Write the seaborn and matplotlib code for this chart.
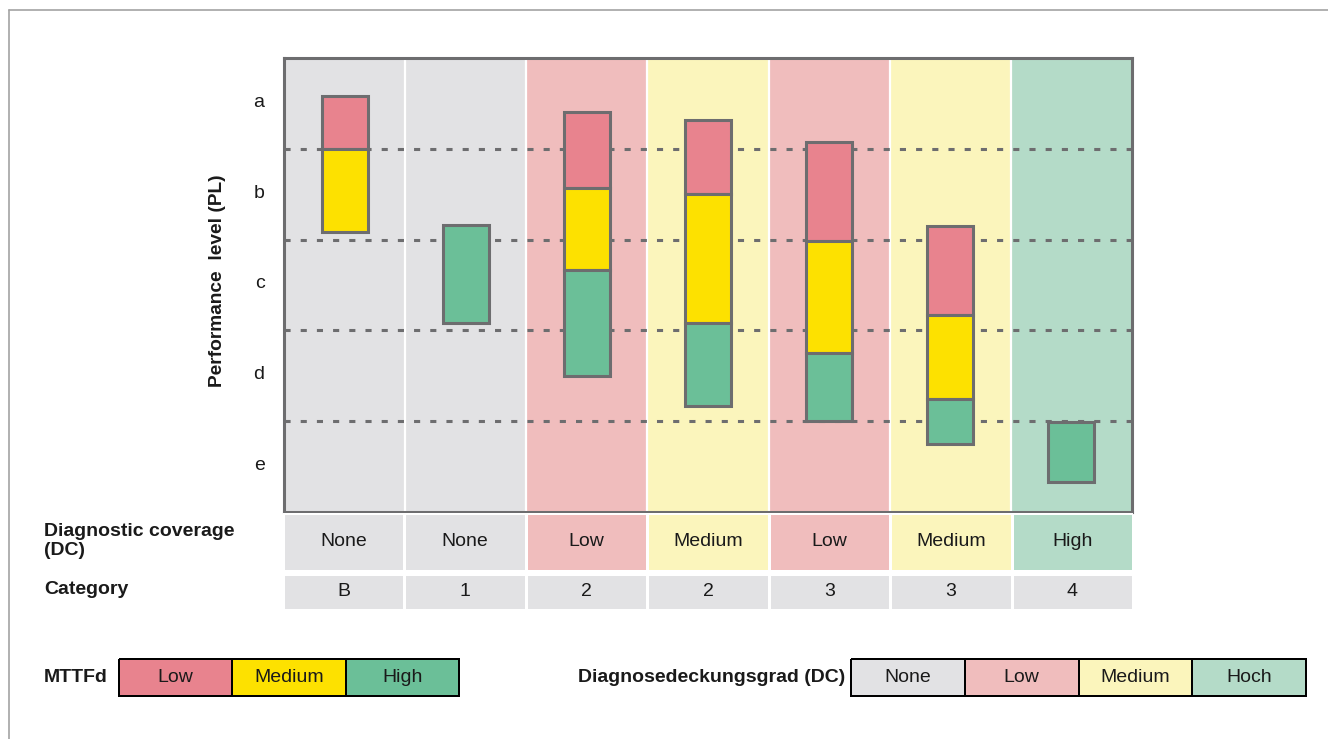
import numpy as np
import pandas as pd
import matplotlib.pyplot as plt
from matplotlib.colors import ListedColormap
from matplotlib.lines import Line2D
from matplotlib.transforms import ScaledTranslation
import seaborn as sns

# --- DATA ---
categories = ['B', '1', '2', '2', '3', '3', '4']
dc_levels = ['None', 'None', 'Low', 'Medium', 'Low', 'Medium', 'High']
pl_labels = ['a', 'b', 'c', 'd', 'e']  # top to bottom

# PL scale: 0 = bottom of "e", 5 = top of "a"; NaN = no segment in that column
mttf_low_from = [4.00, np.nan, 3.57, 3.50, 2.99, 2.17, np.nan]
mttf_low_to = [4.58, np.nan, 4.41, 4.32, 4.07, 3.15, np.nan]
mttf_med_from = [3.08, np.nan, 2.67, 2.08, 1.75, 1.24, np.nan]
mttf_med_to = [4.00, np.nan, 3.57, 3.50, 2.99, 2.17, np.nan]
mttf_high_from = [np.nan, 2.08, 1.50, 1.17, 1.00, 0.75, 0.33]
mttf_high_to = [np.nan, 3.16, 2.67, 2.08, 1.75, 1.24, 0.99]

mttf_legend = ['Low', 'Medium', 'High']
dc_legend = ['None', 'Low', 'Medium', 'Hoch']

# --- STYLE ---
DC_COLORS = {'None': '#e2e2e4', 'Low': '#f0bdbd', 'Medium': '#fbf5bc', 'High': '#b4dbc8'}
MTTF_COLORS = {'Low': '#e8838e', 'Medium': '#fde100', 'High': '#6bbf98'}
EDGE = '#6d6d6f'
TXT = '#1a1a1a'

sns.set_theme(style="white")
plt.rcParams['font.family'] = ['Liberation Sans', 'DejaVu Sans']

W, H = 1328, 739
fig = plt.figure(figsize=(W / 100, H / 100), dpi=100)


def px_box(x0, y0, x1, y1):
    return [x0 / W, 1 - y1 / H, (x1 - x0) / W, (y1 - y0) / H]


# --- MAIN PANEL ---
ax = fig.add_axes(px_box(284, 58, 1132, 512))
for i, d in enumerate(dc_levels):
    ax.axvspan(i - 0.5, i + 0.5, color=DC_COLORS[d], lw=0, zorder=0)
for i in range(1, len(categories)):
    ax.axvline(i - 0.5, color='white', lw=1.6, zorder=0.3)
for y in range(1, 5):
    ax.axhline(y, color=EDGE, lw=2.2, ls=(0, (2.0, 3.3)), zorder=0.5)

cols = np.arange(len(categories))
segments = [('Low', mttf_low_from, mttf_low_to),
            ('Medium', mttf_med_from, mttf_med_to),
            ('High', mttf_high_from, mttf_high_to)]
for level, lo, hi in segments:
    seg = pd.DataFrame({'col': cols, 'bottom': lo, 'top': hi}).dropna()
    seg['height'] = seg['top'] - seg['bottom']
    sns.barplot(data=seg, x='col', y='height', native_scale=True, width=0.38,
                color=MTTF_COLORS[level], saturation=1, errorbar=None,
                bottom=seg['bottom'].to_numpy(), edgecolor=EDGE, linewidth=2.2,
                zorder=2, ax=ax)

ax.set_xlim(-0.5, len(categories) - 0.5)
ax.set_ylim(0, 5)
ax.set_xticks([])
ax.set_xlabel('')
ax.set_yticks(np.arange(4.5, 0, -1))
ax.set_yticklabels(pl_labels, fontsize=14, color=TXT)
ax.tick_params(axis='y', length=0, pad=14)
lift = ScaledTranslation(0, 3 / 100, fig.dpi_scale_trans)
for lbl in ax.get_yticklabels():
    lbl.set_transform(lbl.get_transform() + lift)
ax.set_ylabel('Performance  level (PL)', fontsize=13.8, fontweight='bold', color=TXT)
ax.yaxis.label.set_va('center')
ax.yaxis.set_label_coords(-0.078, 0.509)
for s in ax.spines.values():
    s.set_color(EDGE)
    s.set_linewidth(2.2)
    s.set_zorder(3)

# --- TABLE ROWS ---
dc_order = list(DC_COLORS)
ax_dc = fig.add_axes(px_box(283, 513, 1133, 571))
sns.heatmap(np.array([[dc_order.index(d) for d in dc_levels]]), ax=ax_dc,
            cmap=ListedColormap(list(DC_COLORS.values())), vmin=-0.5, vmax=3.5,
            cbar=False, annot=np.array([dc_levels]), fmt='',
            annot_kws={'fontsize': 14, 'color': TXT},
            linewidths=2, linecolor='white', xticklabels=False, yticklabels=False)

ax_cat = fig.add_axes(px_box(283, 574, 1133, 610))
sns.heatmap(np.zeros((1, len(categories))), ax=ax_cat,
            cmap=ListedColormap([DC_COLORS['None']]), vmin=0, vmax=1,
            cbar=False, annot=np.array([categories]), fmt='',
            annot_kws={'fontsize': 14, 'color': TXT},
            linewidths=2, linecolor='white', xticklabels=False, yticklabels=False)

fig.text(44 / W, 1 - 541 / H, 'Diagnostic coverage\n(DC)', fontsize=14,
         fontweight='bold', color=TXT, va='center', ha='left', linespacing=1.2)
fig.text(44 / W, 1 - 589 / H, 'Category', fontsize=14, fontweight='bold',
         color=TXT, va='center', ha='left')

# --- LEGENDS ---
ax_l1 = fig.add_axes(px_box(119, 659, 459, 696))
sns.heatmap(np.arange(len(mttf_legend)).reshape(1, -1), ax=ax_l1,
            cmap=ListedColormap([MTTF_COLORS[k] for k in mttf_legend]),
            vmin=-0.5, vmax=len(mttf_legend) - 0.5, cbar=False,
            annot=np.array([mttf_legend]), fmt='', annot_kws={'fontsize': 14, 'color': TXT},
            linewidths=1.4, linecolor='black', xticklabels=False, yticklabels=False)
ax_l1.collections[0].set_clip_on(False)

ax_l2 = fig.add_axes(px_box(851, 659, 1306, 696))
sns.heatmap(np.arange(len(dc_legend)).reshape(1, -1), ax=ax_l2,
            cmap=ListedColormap(list(DC_COLORS.values())),
            vmin=-0.5, vmax=len(dc_legend) - 0.5, cbar=False,
            annot=np.array([dc_legend]), fmt='', annot_kws={'fontsize': 14, 'color': TXT},
            linewidths=1.4, linecolor='black', xticklabels=False, yticklabels=False)
ax_l2.collections[0].set_clip_on(False)

fig.text(44 / W, 1 - 677 / H, 'MTTFd', fontsize=14, fontweight='bold',
         color=TXT, va='center', ha='left')
fig.text(578 / W, 1 - 677 / H, 'Diagnosedeckungsgrad (DC)', fontsize=14,
         fontweight='bold', color=TXT, va='center', ha='left')

# light frame at top and left
fig.add_artist(Line2D([9 / W, 1], [1 - 10 / H] * 2, transform=fig.transFigure,
                      color='#a3a3a3', lw=1.2))
fig.add_artist(Line2D([9 / W] * 2, [0, 1 - 10 / H], transform=fig.transFigure,
                      color='#a3a3a3', lw=1.2))

fig.savefig('out.png', dpi=100)
